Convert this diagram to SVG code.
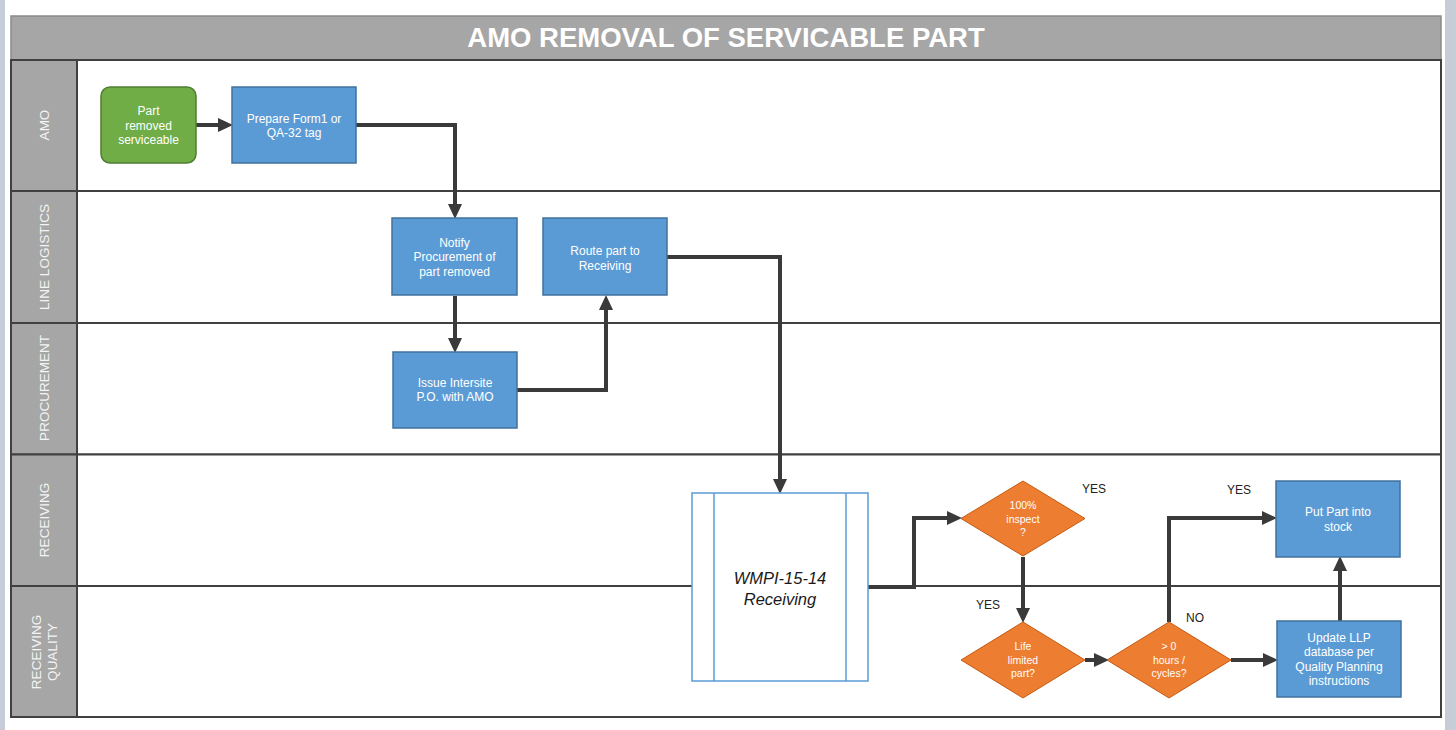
<svg xmlns="http://www.w3.org/2000/svg" width="1456" height="730" viewBox="0 0 1456 730">
<style>
.lane{fill:#ffffff;stroke:#404040;stroke-width:2}
.hdr{fill:#a6a6a6;stroke:#404040;stroke-width:2}
.hl{font-family:"Liberation Sans",Arial,sans-serif;font-size:13.5px;fill:#f4f4f4;text-anchor:middle}
.proc{fill:#5b9bd5;stroke:#41719c;stroke-width:1.5}
.dec{fill:#ed7d31;stroke:#c55a11;stroke-width:1}
.t{font-family:"Liberation Sans",Arial,sans-serif;font-size:12px;fill:#ffffff;text-anchor:middle}
.td{font-family:"Liberation Sans",Arial,sans-serif;font-size:10.5px;fill:#ffffff;text-anchor:middle}
.lbl{font-family:"Liberation Sans",Arial,sans-serif;font-size:12px;fill:#222222}
.c{fill:none;stroke:#3a3a3a;stroke-width:4;stroke-linejoin:miter}
</style>
<defs>
<marker id="ah" markerUnits="userSpaceOnUse" markerWidth="15" markerHeight="14" refX="4" refY="7" orient="auto">
<path d="M0,0 L15,7 L0,14 Z" fill="#3a3a3a"/>
</marker>
</defs>
<rect x="0" y="0" width="1456" height="730" fill="#ffffff"/>
<rect x="0" y="0" width="5" height="730" fill="#c6cdd6"/>
<rect x="1445" y="0" width="11" height="730" fill="#c6cdd6"/>
<g id="pool">
<rect x="11" y="16" width="1430" height="44" fill="#a6a6a6" stroke="#8a8a8a" stroke-width="1.5"/>
<text x="726" y="47" font-family="'Liberation Sans',Arial,sans-serif" font-size="27.5" font-weight="bold" fill="#ffffff" text-anchor="middle">AMO REMOVAL OF SERVICABLE PART</text>
</g>
<g id="lanes">
<rect class="lane" x="11" y="60" width="1430" height="131"/>
<rect class="lane" x="11" y="191" width="1430" height="132"/>
<rect class="lane" x="11" y="323" width="1430" height="131.5"/>
<rect class="lane" x="11" y="454.5" width="1430" height="131.5"/>
<rect class="lane" x="11" y="586" width="1430" height="131"/>
<rect class="hdr" x="11" y="60" width="66" height="131"/>
<rect class="hdr" x="11" y="191" width="66" height="132"/>
<rect class="hdr" x="11" y="323" width="66" height="131.5"/>
<rect class="hdr" x="11" y="454.5" width="66" height="131.5"/>
<rect class="hdr" x="11" y="586" width="66" height="131"/>
<text class="hl" transform="translate(49,125) rotate(-90)">AMO</text>
<text class="hl" transform="translate(49,257) rotate(-90)">LINE LOGISTICS</text>
<text class="hl" transform="translate(49,388) rotate(-90)">PROCUREMENT</text>
<text class="hl" transform="translate(49,520) rotate(-90)">RECEIVING</text>
<text class="hl" transform="translate(41,652) rotate(-90)">RECEIVING</text>
<text class="hl" transform="translate(57,652) rotate(-90)">QUALITY</text>
</g>
<g id="connectors">
<path class="c" d="M196,125 L222,125" marker-end="url(#ah)"/>
<path class="c" d="M356,125 L455,125 L455,208" marker-end="url(#ah)"/>
<path class="c" d="M455,296 L455,342" marker-end="url(#ah)"/>
<path class="c" d="M517,390 L606,390 L606,306" marker-end="url(#ah)"/>
<path class="c" d="M667,257 L780,257 L780,483" marker-end="url(#ah)"/>
<path class="c" d="M868,587 L914,587 L914,518 L951,518" marker-end="url(#ah)"/>
<path class="c" d="M1023,557 L1023,612" marker-end="url(#ah)"/>
<path class="c" d="M1085,660 L1098,660" marker-end="url(#ah)"/>
<path class="c" d="M1231,660 L1267,660" marker-end="url(#ah)"/>
<path class="c" d="M1169,622 L1169,518 L1266,518" marker-end="url(#ah)"/>
<path class="c" d="M1340,621 L1340,567" marker-end="url(#ah)"/>
<text class="lbl" x="1082" y="493">YES</text>
<text class="lbl" x="976" y="609">YES</text>
<text class="lbl" x="1227" y="494">YES</text>
<text class="lbl" x="1186" y="622">NO</text>
</g>
<g id="start">
<rect x="101" y="87" width="95" height="76" rx="9" fill="#70ad47" stroke="#507e32" stroke-width="1.5"/>
<text class="t" x="148.5" y="115">Part</text>
<text class="t" x="148.5" y="129.5">removed</text>
<text class="t" x="148.5" y="144">serviceable</text>
</g>
<g id="prepare">
<rect class="proc" x="232" y="87" width="124" height="76"/>
<text class="t" x="294" y="122.5">Prepare Form1 or</text>
<text class="t" x="294" y="137">QA-32 tag</text>
</g>
<g id="notify">
<rect class="proc" x="392" y="218" width="125" height="77"/>
<text class="t" x="454.5" y="246.5">Notify</text>
<text class="t" x="454.5" y="261">Procurement of</text>
<text class="t" x="454.5" y="275.5">part removed</text>
</g>
<g id="route">
<rect class="proc" x="543" y="218" width="124" height="77"/>
<text class="t" x="605" y="255">Route part to</text>
<text class="t" x="605" y="269.5">Receiving</text>
</g>
<g id="issue">
<rect class="proc" x="393" y="352" width="124" height="76"/>
<text class="t" x="455" y="386.5">Issue Intersite</text>
<text class="t" x="455" y="401">P.O. with AMO</text>
</g>
<g id="wmpi">
<rect x="692" y="493" width="176" height="188" fill="#ffffff" stroke="#5b9bd5" stroke-width="1.5"/>
<line x1="714" y1="493" x2="714" y2="681" stroke="#5b9bd5" stroke-width="1.5"/>
<line x1="846" y1="493" x2="846" y2="681" stroke="#5b9bd5" stroke-width="1.5"/>
<text x="780" y="584" font-family="'Liberation Sans',Arial,sans-serif" font-size="16.5" font-style="italic" fill="#1a1a1a" text-anchor="middle">WMPI-15-14</text>
<text x="780" y="605" font-family="'Liberation Sans',Arial,sans-serif" font-size="16.5" font-style="italic" fill="#1a1a1a" text-anchor="middle">Receiving</text>
</g>
<g id="inspect">
<polygon class="dec" points="1023,481 1085,518.5 1023,556 961,518.5"/>
<text class="td" x="1023" y="509">100%</text>
<text class="td" x="1023" y="523">inspect</text>
<text class="td" x="1023" y="536">?</text>
</g>
<g id="life">
<polygon class="dec" points="1023,622 1085,660 1023,698 961,660"/>
<text class="td" x="1023" y="650">Life</text>
<text class="td" x="1023" y="664">limited</text>
<text class="td" x="1023" y="677">part?</text>
</g>
<g id="hours">
<polygon class="dec" points="1169,622 1231,660 1169,698 1107,660"/>
<text class="td" x="1169" y="650">&gt; 0</text>
<text class="td" x="1169" y="664">hours /</text>
<text class="td" x="1169" y="677">cycles?</text>
</g>
<g id="stock">
<rect class="proc" x="1276" y="481" width="124" height="76"/>
<text class="t" x="1338" y="516">Put Part into</text>
<text class="t" x="1338" y="530.5">stock</text>
</g>
<g id="update">
<rect class="proc" x="1277" y="621" width="124" height="76"/>
<text class="t" x="1339" y="641.5">Update LLP</text>
<text class="t" x="1339" y="656">database per</text>
<text class="t" x="1339" y="670.5">Quality Planning</text>
<text class="t" x="1339" y="685">instructions</text>
</g>
</svg>
